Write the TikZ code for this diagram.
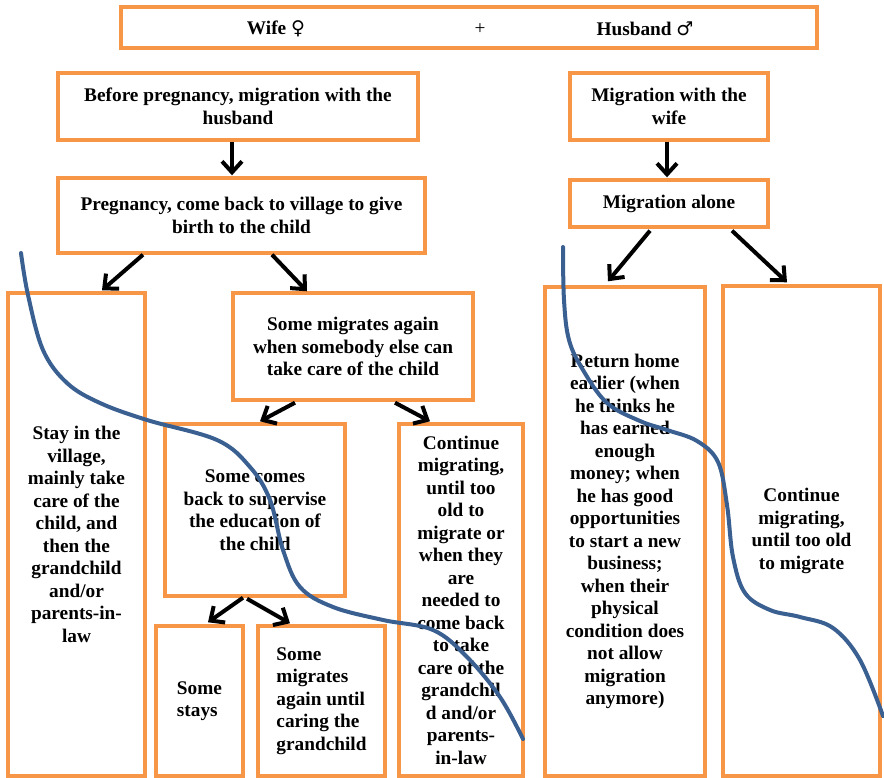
\documentclass[tikz,border=0pt]{standalone}
\usepackage{fontspec}
\setmainfont{Liberation Serif}
\newfontfamily\symfont{DejaVu Sans}
\usetikzlibrary{arrows.meta}
\definecolor{boxorange}{HTML}{F79646}
\definecolor{splitblue}{HTML}{3A5F91}
\tikzset{
  box/.style={draw=boxorange, line width=3.4pt, inner sep=0pt, align=center,
    font=\fontsize{19.3}{22.5}\selectfont\bfseries},
  lbl/.style={inner sep=0pt, font=\fontsize{19.3}{22.5}\selectfont\bfseries},
  flow/.style={-{Straight Barb[length=11pt,width=20pt]}, line width=4pt, black},
  split/.style={draw=splitblue, line width=4pt, line cap=round}
}
\begin{document}
\begin{tikzpicture}[x=1pt, y=-1pt]
\useasboundingbox (0,0) rectangle (884,778);

% couple header
\node[box, minimum width=696pt, minimum height=41pt] (couple) at (469,27.5) {};
\node[lbl] (wife) at (276,29) {Wife {\symfont\mdseries\fontsize{19}{22}\selectfont ♀}};
\node[lbl, font=\fontsize{19.3}{22.5}\selectfont] (plus) at (480,29) {+};
\node[lbl] (husband) at (645,29) {Husband {\symfont\mdseries\fontsize{19}{22}\selectfont ♂}};

% wife branch
\node[box, minimum width=360pt, minimum height=67pt] (before) at (238,106.5)
  {Before pregnancy, migration with the\\husband};
\node[box, minimum width=367pt, minimum height=75pt] (preg) at (241.5,215.5)
  {Pregnancy, come back to village to give\\birth to the child};
\node[box, minimum width=137pt, minimum height=483pt] (stay) at (76.5,534.5)
  {Stay in the\\village,\\mainly take\\care of the\\child, and\\then the\\grandchild\\and/or\\parents-in-\\law};
\node[box, minimum width=240pt, minimum height=107pt] (again) at (353,346.5)
  {Some migrates again\\when somebody else can\\take care of the child};
\node[box, minimum width=180pt, minimum height=172pt] (back) at (255,510)
  {Some comes\\back to supervise\\the education of\\the child};
\node[box, minimum width=124pt, minimum height=352pt] (contold) at (461,600)
  {Continue\\migrating,\\until too\\old to\\migrate or\\when they\\are\\needed to\\come back\\to take\\care of the\\grandchil\\d and/or\\parents-\\in-law};
\node[box, align=left, minimum width=87pt, minimum height=150pt] (stays) at (199.5,701)
  {Some\\stays};
\node[box, align=left, minimum width=127pt, minimum height=150pt] (untilcare) at (321.5,701)
  {Some\\migrates\\again until\\caring the\\grandchild};

% husband branch
\node[box, minimum width=198pt, minimum height=67pt] (wifemig) at (669,106.5)
  {Migration with the\\wife};
\node[box, minimum width=198pt, minimum height=47pt] (alone) at (669,203.5)
  {Migration alone};
\node[box, minimum width=160pt, minimum height=489pt] (return) at (625,531.5)
  {Return home\\earlier (when\\he thinks he\\has earned\\enough\\money; when\\he has good\\opportunities\\to start a new\\business;\\when their\\physical\\condition does\\not allow\\migration\\anymore)};
\node[box, minimum width=157pt, minimum height=490pt] (contright) at (801.5,531)
  {Continue\\migrating,\\until too old\\to migrate};

% arrows
\draw[flow] ([xshift=-6pt]before.south) -- ([xshift=-6pt,yshift=1pt]before.south |- preg.north);
\draw[flow] ([xshift=-2pt]wifemig.south) -- ([xshift=-2pt,yshift=1pt]wifemig.south |- alone.north);
\draw[flow] ([xshift=-98.5pt]preg.south) -- ([xshift=25.5pt,yshift=1pt]stay.north);
\draw[flow] ([xshift=30.5pt]preg.south) -- ([xshift=-46pt]again.north);
\draw[flow] ([xshift=-58pt,yshift=-1pt]again.south) -- ([xshift=5pt,yshift=1pt]back.north);
\draw[flow] ([xshift=42pt,yshift=-1pt]again.south) -- ([xshift=-31pt,yshift=1pt]contold.north);
\draw[flow] ([xshift=-19pt,yshift=-2pt]alone.south) -- ([xshift=-17pt,yshift=4pt]return.north);
\draw[flow] ([xshift=63pt,yshift=-2pt]alone.south) -- ([xshift=-14.5pt,yshift=2pt]contright.north);
\draw[flow] ([xshift=-12pt]back.south) -- ([xshift=8.5pt,yshift=2pt]stays.north);
\draw[flow] ([xshift=-8pt,yshift=-1pt]back.south) -- ([xshift=-31.5pt,yshift=1pt]untilcare.north);

% dividing curves
\draw[split] plot[smooth, tension=0.6] coordinates {
  (21,253) (28,295) (43,350) (67,383) (100,403) (147,420) (217,440)
  (250,467) (270,500) (283,550) (300,587) (333,607) (383,620)
  (433,630) (467,657) (500,697) (523,739)};
\draw[split] plot[smooth, tension=0.6] coordinates {
  (563,247) (564,300) (569,340) (583,370) (607,403) (640,421) (667,430)
  (697,441) (718,462) (727,505) (733,557) (745,593) (770,610) (800,617)
  (833,628) (860,660) (883,716)};
\end{tikzpicture}
\end{document}
